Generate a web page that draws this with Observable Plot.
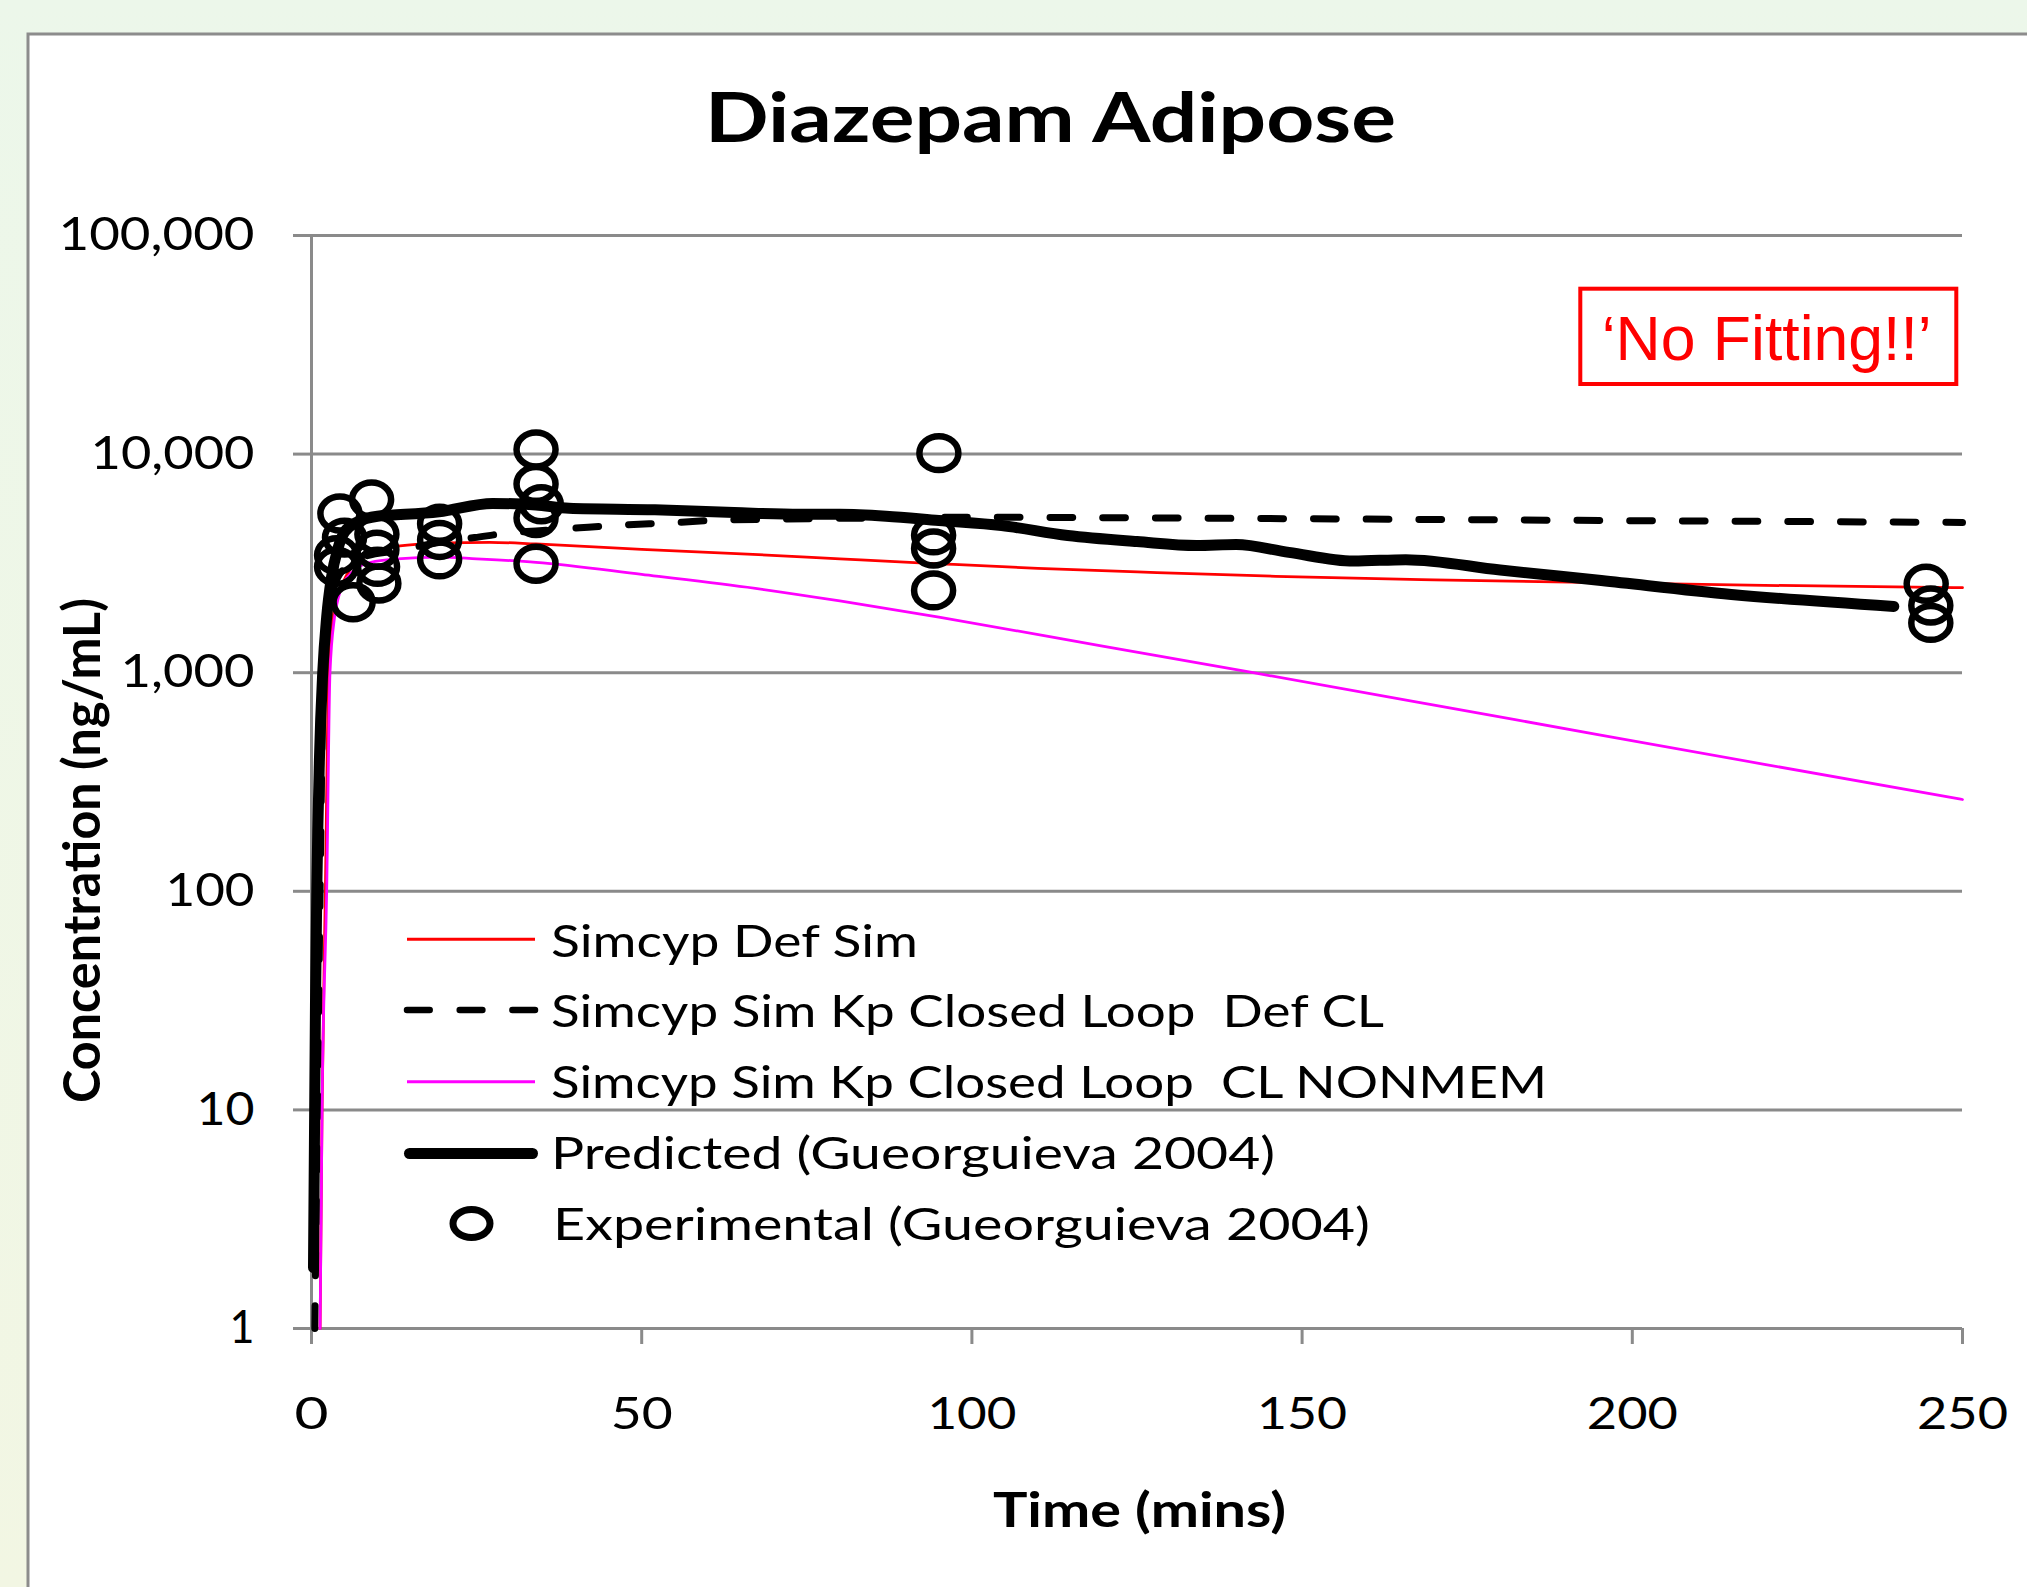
<!DOCTYPE html>
<html>
<head>
<meta charset="utf-8">
<script src="https://cdn.jsdelivr.net/npm/d3@7"></script>
<script src="https://cdn.jsdelivr.net/npm/@observablehq/plot@0.6"></script>
<style>
html, body { margin: 0; padding: 0; background: #EEF7E8; }
#chart { position: absolute; left: 0; top: 0; width: 2027px; height: 1587px; }
</style>
</head>
<body>
<div id="chart"></div>
<script>
// ---------- data ----------
const chartTitle = "Diazepam Adipose";
const xLabel = "Time (mins)";
const yLabel = "Concentration (ng/mL)";
const noteText = "\u2018No Fitting!!\u2019";
const seriesNames = [
  "Simcyp Def Sim",
  "Simcyp Sim Kp Closed Loop  Def CL",
  "Simcyp Sim Kp Closed Loop  CL NONMEM",
  "Predicted (Gueorguieva 2004)",
  "Experimental (Gueorguieva 2004)"
];
const yTicks = [1, 10, 100, 1000, 10000, 100000];
const xTicks = [0, 50, 100, 150, 200, 250];

// Simcyp Def Sim (red)
const defSimT = [1.3, 1.6, 2.1, 2.6, 3.5, 4.9, 8.4, 13, 20, 27, 34, 50, 66, 80, 95, 110, 128, 146, 170, 195, 220, 250];
const defSimC = [1, 10, 100, 1000, 2000, 2640, 3440, 3790, 3930, 3950, 3880, 3670, 3490, 3320, 3150, 3000, 2870, 2760, 2660, 2580, 2510, 2450];

// Simcyp Sim Kp Closed Loop Def CL (black dashed)
const defClT = [0.5, 0.9, 1.3, 1.8, 2.5, 3.5, 5, 8, 13, 20.6, 24.7, 29.6, 34, 40.6, 45, 56, 60.5, 72, 85, 100, 150, 200, 250];
const defClC = [1, 10, 100, 1000, 1800, 2500, 3000, 3400, 3620, 4000, 4150, 4350, 4450, 4600, 4700, 4880, 4970, 5050, 5100, 5140, 5060, 4960, 4870];

// Simcyp Sim Kp Closed Loop CL NONMEM (magenta)
const nonmemT = [1.3, 1.6, 2.3, 2.8, 3.5, 4.1, 5.9, 9, 13, 19.3, 25, 34, 50, 66, 80, 95, 120, 142.6, 170, 195, 220, 250];
const nonmemC = [1, 10, 100, 1000, 1800, 2220, 2840, 3200, 3320, 3380, 3320, 3200, 2820, 2460, 2130, 1795, 1320, 1000, 711, 520, 381, 263];

// Predicted (Gueorguieva 2004) (thick black)
const predT = [0.3, 0.6, 0.8, 1.2, 1.7, 2.3, 3, 4, 5, 7, 10, 12, 19.3, 27.4, 34, 39, 52, 64, 74, 80, 87, 95, 104.5, 114.5, 125, 134, 140, 148, 157.8, 165.7, 180, 195.3, 215, 239.6];
const predC = [1.9, 30, 100, 400, 1000, 1800, 2700, 3700, 4400, 4900, 5200, 5250, 5450, 5950, 5850, 5650, 5560, 5400, 5300, 5300, 5200, 4970, 4710, 4240, 3980, 3820, 3860, 3550, 3240, 3290, 2950, 2640, 2280, 2010];

// Experimental (Gueorguieva 2004) (open circles)
const expT = [4.3, 5, 3.8, 3.8, 6.3, 9.1, 9.9, 9.9, 10, 10.2, 19.4, 19.4, 19.4, 34, 34, 34.8, 34, 34, 95, 94.2, 94.2, 94.2, 244.5, 245.2, 245.2];
const expC = [5350, 4150, 3450, 3050, 2100, 6200, 4300, 3650, 3050, 2560, 4800, 4050, 3300, 10500, 7300, 5900, 5100, 3150, 10100, 4250, 3700, 2380, 2550, 2030, 1690];

// ---------- helpers ----------
const rows = (t, c) => t.map((d, i) => ({t: d, c: c[i]}));
const grid = "#8a8a8a";
const ellipseSymbol = {
  draw(ctx, size) {
    const r = Math.sqrt(size / Math.PI), rx = r, ry = r * 0.87, k = 0.5523;
    ctx.moveTo(rx, 0);
    ctx.bezierCurveTo(rx, ry * k, rx * k, ry, 0, ry);
    ctx.bezierCurveTo(-rx * k, ry, -rx, ry * k, -rx, 0);
    ctx.bezierCurveTo(-rx, -ry * k, -rx * k, -ry, 0, -ry);
    ctx.bezierCurveTo(rx * k, -ry, rx, -ry * k, rx, 0);
    ctx.closePath();
  }
};

const W = 2027, H = 1587;
const plot = Plot.plot({
  width: W, height: H,
  marginLeft: 311, marginRight: 65, marginTop: 235, marginBottom: 259,
  style: {background: "transparent", fontFamily: "Lato, 'Open Sans', sans-serif", overflow: "visible", color: "#000"},
  x: {domain: [0, 250]},
  y: {type: "log", domain: [1, 100000]},
  marks: [
    Plot.ruleY(yTicks, {stroke: grid, strokeWidth: 3}),
    Plot.ruleX([0], {stroke: grid, strokeWidth: 3}),
    Plot.axisY({ticks: yTicks, tickFormat: d3.format(","), tickSize: 18, tickPadding: 39,
      stroke: grid, strokeWidth: 3, fill: "#000", fontSize: 46, label: null}),
    Plot.axisX({ticks: xTicks, tickFormat: d3.format("d"), tickSize: 16, tickPadding: 53,
      stroke: grid, strokeWidth: 3, fill: "#000", fontSize: 44, label: null}),
    Plot.line(rows(defSimT, defSimC), {x: "t", y: "c", stroke: "#FF0000", strokeWidth: 2.75, curve: "monotone-x"}),
    Plot.line(rows(defClT, defClC), {x: "t", y: "c", stroke: "#000", strokeWidth: 7, strokeDasharray: "22.7,30",
      strokeLinecap: "round", curve: "monotone-x"}),
    Plot.line(rows(nonmemT, nonmemC), {x: "t", y: "c", stroke: "#FF00FF", strokeWidth: 2.75, curve: "monotone-x"}),
    Plot.line(rows(predT, predC), {x: "t", y: "c", stroke: "#000", strokeWidth: 11, strokeLinecap: "round",
      strokeLinejoin: "round", curve: "monotone-x"}),
    Plot.dot(rows(expT, expC), {x: "t", y: "c", r: 19.5, symbol: ellipseSymbol, stroke: "#000", strokeWidth: 6.5, fill: "none"})
  ]
});
document.getElementById("chart").appendChild(plot);

const svg = d3.select(plot);

// stretch tick labels to the reference widths
const tickWidths = {"100,000": 196, "10,000": 164, "1,000": 134, "100": 89, "10": 58, "1": 25,
  "0": 34, "50": 62, "150": 90, "200": 91, "250": 91};
svg.selectAll("text").each(function() {
  const w = tickWidths[this.textContent];
  if (w) { this.setAttribute("textLength", w); this.setAttribute("lengthAdjust", "spacingAndGlyphs"); }
});

// background + panel
const bg = svg.insert("g", ":first-child");
const defs = bg.append("defs");
const lg = defs.append("linearGradient").attr("id", "bgGrad").attr("x1", 0).attr("y1", 0).attr("x2", 0).attr("y2", 1);
lg.append("stop").attr("offset", "0%").attr("stop-color", "#ECF7EA");
lg.append("stop").attr("offset", "100%").attr("stop-color", "#F2F6E3");
bg.append("rect").attr("x", 0).attr("y", 0).attr("width", W).attr("height", H).attr("fill", "url(#bgGrad)");
bg.append("rect").attr("x", 28).attr("y", 34).attr("width", W + 20).attr("height", H + 20)
  .attr("fill", "#fff").attr("stroke", "#8c8c8c").attr("stroke-width", 3);

// overlay: title, axis labels, note, legend
const ov = svg.append("g").attr("font-family", "Lato, 'Open Sans', sans-serif").attr("fill", "#000")
  .attr("text-anchor", "start");
function fitText(sel, w) { sel.attr("textLength", w).attr("lengthAdjust", "spacingAndGlyphs"); return sel; }

fitText(ov.append("text").attr("x", 705).attr("y", 142).attr("font-size", 68).attr("font-weight", 700).text(chartTitle), 691);
fitText(ov.append("text").attr("x", 993).attr("y", 1527).attr("font-size", 47).attr("font-weight", 700).text(xLabel), 293);
fitText(ov.append("text").attr("transform", "translate(100,850.5) rotate(-90)").attr("text-anchor", "middle")
  .attr("font-size", 52).attr("font-weight", 700).text(yLabel), 505);

// note box
ov.append("rect").attr("x", 1580.3).attr("y", 288.7).attr("width", 376).attr("height", 95.3)
  .attr("fill", "#fff").attr("stroke", "#FF0000").attr("stroke-width", 4);
fitText(ov.append("text").attr("x", 1601.7).attr("y", 360).attr("font-family", "'Liberation Sans', Arial, sans-serif")
  .attr("font-size", 63).attr("fill", "#FF0000").text(noteText), 330);

// legend
const lgX0 = 407, lgX1 = 535;
const lgRowsY = [939.3, 1010, 1081.7, 1153.5, 1223.5];
const lgTextY = [956.5, 1027, 1098, 1168.5, 1240];
const lgTextW = [367, 833, 996, 724, 817];
const leg = ov.append("g");
leg.append("line").attr("x1", lgX0).attr("x2", lgX1).attr("y1", lgRowsY[0]).attr("y2", lgRowsY[0]).attr("stroke", "#FF0000").attr("stroke-width", 3);
leg.append("line").attr("x1", lgX0).attr("x2", lgX1).attr("y1", lgRowsY[1]).attr("y2", lgRowsY[1]).attr("stroke", "#000")
  .attr("stroke-width", 6.5).attr("stroke-dasharray", "22.7,30").attr("stroke-linecap", "round");
leg.append("line").attr("x1", lgX0).attr("x2", lgX1).attr("y1", lgRowsY[2]).attr("y2", lgRowsY[2]).attr("stroke", "#FF00FF").attr("stroke-width", 3);
leg.append("line").attr("x1", 409.5).attr("x2", 532.5).attr("y1", lgRowsY[3]).attr("y2", lgRowsY[3]).attr("stroke", "#000")
  .attr("stroke-width", 11).attr("stroke-linecap", "round");
leg.append("ellipse").attr("cx", 471.5).attr("cy", lgRowsY[4]).attr("rx", 18.5).attr("ry", 14)
  .attr("fill", "none").attr("stroke", "#000").attr("stroke-width", 7);
seriesNames.forEach((name, i) => {
  fitText(leg.append("text").attr("x", i === 4 ? 553 : 551).attr("y", lgTextY[i]).attr("font-size", 44)
    .attr("text-anchor", "start").style("white-space", "pre").text(name), lgTextW[i]);
});
</script>
</body>
</html>
